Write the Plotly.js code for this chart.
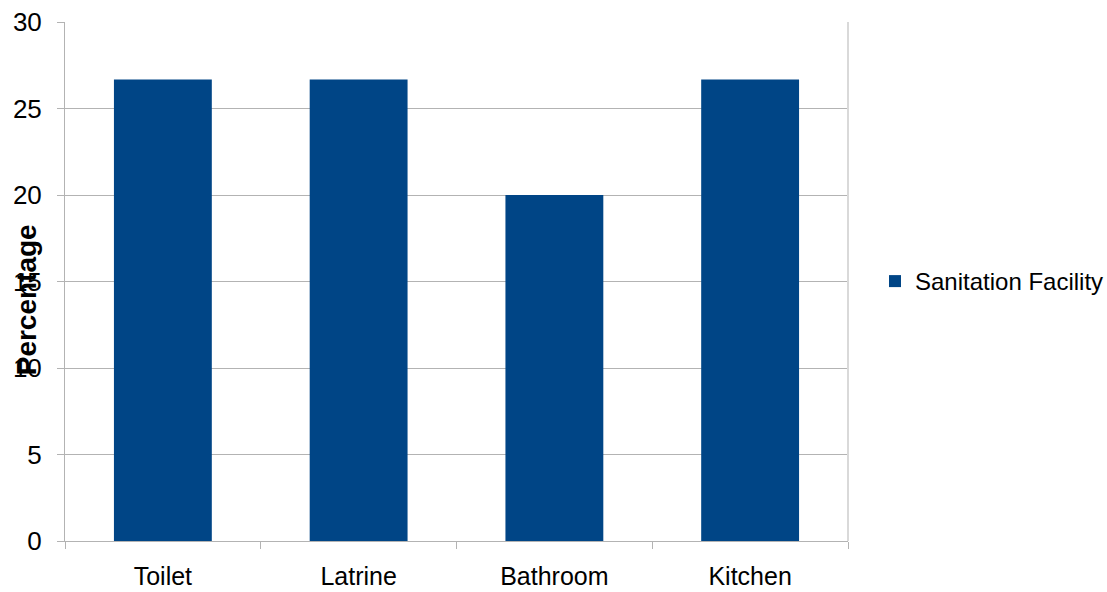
<!DOCTYPE html>
<html>
<head>
<meta charset="utf-8">
<script src="https://cdn.plot.ly/plotly-3.0.1.min.js"></script>
<style>html,body{margin:0;padding:0;background:#fff;}#chart{width:1107px;height:592px;}</style>
</head>
<body>
<div id="chart"></div>
<script>
const categories = ["Toilet", "Latrine", "Bathroom", "Kitchen"];
const seriesName = "Sanitation Facility";
const values = [26.67, 26.67, 20, 26.67];
const yTicks = [0, 5, 10, 15, 20, 25, 30];

const trace = {
  type: "bar",
  x: categories,
  y: values,
  name: seriesName,
  marker: {color: "#004586", line: {width: 0}},
  width: 0.5,
  showlegend: true,
  hoverinfo: "x+y"
};

const layout = {
  width: 1107,
  height: 592,
  margin: {l: 65, r: 259, t: 22, b: 51, pad: 0, autoexpand: false},
  paper_bgcolor: "#ffffff",
  plot_bgcolor: "#ffffff",
  font: {family: "Liberation Sans, Arial, sans-serif", color: "#000000", size: 26},
  showlegend: true,
  legend: {
    x: 1.0345, xanchor: "left", y: 0.5, yanchor: "middle",
    font: {size: 24, color: "#000000"},
    bgcolor: "rgba(0,0,0,0)", borderwidth: 0,
    itemwidth: 30
  },
  xaxis: {
    type: "category",
    tickson: "boundaries",
    ticks: "outside", ticklen: 7, tickcolor: "#b3b3b3", tickwidth: 1,
    showline: true, linecolor: "#b3b3b3", linewidth: 1,
    showgrid: false, zeroline: false,
    mirror: false,
    tickfont: {size: 25},
    ticklabelstandoff: 13,
    automargin: false,
    fixedrange: true
  },
  yaxis: {
    range: [0, 30],
    tickvals: yTicks,
    ticktext: yTicks.map(String),
    ticks: "outside", ticklen: 7, tickcolor: "#b3b3b3", tickwidth: 1,
    showline: true, linecolor: "#b3b3b3", linewidth: 1,
    showgrid: true, gridcolor: "#b3b3b3", gridwidth: 1,
    zeroline: false,
    tickfont: {size: 26},
    ticklabelstandoff: 10,
    automargin: false,
    fixedrange: true
  },
  shapes: [
    {type: "line", xref: "paper", yref: "paper", x0: 1, x1: 1, y0: 0, y1: 1,
     line: {color: "#d9d9d9", width: 2}}
  ],
  annotations: [
    {text: "<b>Percentage</b>", xref: "paper", yref: "paper",
     x: -0.049, y: 0.465, xanchor: "center", yanchor: "middle",
     textangle: -90, showarrow: false, font: {size: 28, color: "#000000"}}
  ],
  bargap: 0.5
};

Plotly.newPlot("chart", [trace], layout, {displayModeBar: false, staticPlot: true});
</script>
</body>
</html>
